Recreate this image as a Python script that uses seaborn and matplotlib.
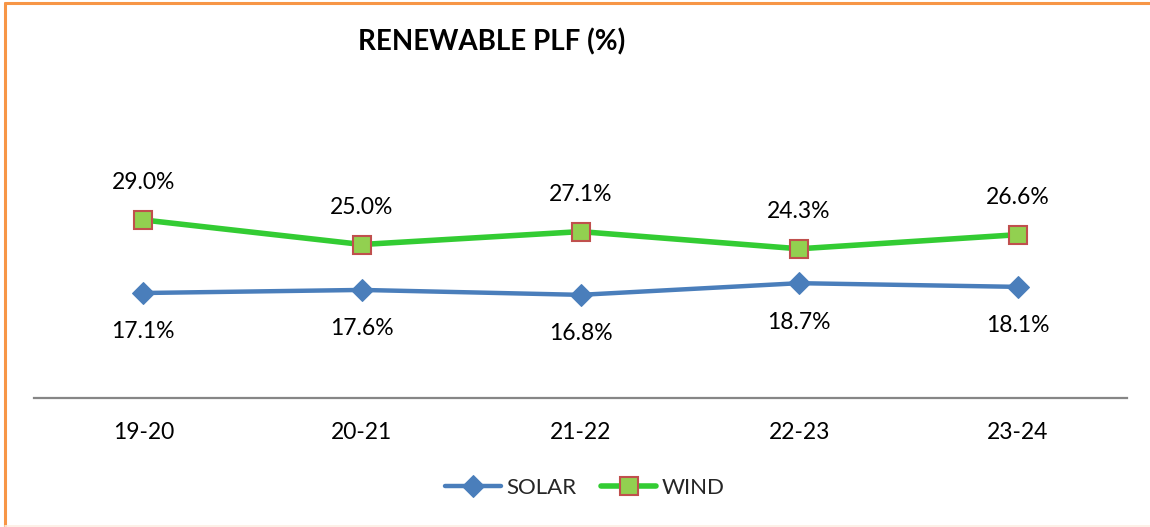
import matplotlib
matplotlib.use("Agg")
import matplotlib.pyplot as plt
from matplotlib.lines import Line2D
import seaborn as sns
import pandas as pd

years = ["19-20", "20-21", "21-22", "22-23", "23-24"]
solar = [17.1, 17.6, 16.8, 18.7, 18.1]
wind = [29.0, 25.0, 27.1, 24.3, 26.6]

sns.set_theme(style="white")
plt.rcParams["font.family"] = ["Lato", "DejaVu Sans"]

df = pd.DataFrame({"year": years, "SOLAR": solar, "WIND": wind})

fig = plt.figure(figsize=(11.5, 5.27), dpi=100)
ax = fig.add_axes([34 / 1150, 1 - 398 / 527, (1127 - 34) / 1150, (398 - 91) / 527])

solar_c = "#4A7EBB"
wind_c = "#33CC33"

sns.lineplot(data=df, x="year", y="SOLAR", ax=ax, color=solar_c, lw=3.2,
             marker="D", markersize=11, markerfacecolor=solar_c,
             markeredgecolor=solar_c, label="SOLAR", sort=False)
sns.lineplot(data=df, x="year", y="WIND", ax=ax, color=wind_c, lw=4,
             marker="s", markersize=12.5, markerfacecolor="#92D050",
             markeredgecolor="#C0504D", markeredgewidth=1.5, label="WIND", sort=False)

for i, v in enumerate(wind):
    ax.annotate(f"{v:.1f}%", (i, v), xytext=(0, 27), textcoords="offset points",
                ha="center", va="center", fontsize=16.5, color="black")
for i, v in enumerate(solar):
    ax.annotate(f"{v:.1f}%", (i, v), xytext=(0, -28), textcoords="offset points",
                ha="center", va="center", fontsize=16.5, color="black")

ax.set_xlim(-0.5, len(years) - 0.5)
ax.set_ylim(0, 50)
ax.set_yticks([])
ax.set_xlabel("")
ax.set_ylabel("")
ax.tick_params(axis="x", length=0, pad=17, labelsize=16.5, colors="black")
for s in ["top", "left", "right"]:
    ax.spines[s].set_visible(False)
ax.spines["bottom"].set_color("#868686")
ax.spines["bottom"].set_linewidth(1.6)

ax.legend(loc="center", bbox_to_anchor=(585 / 1150, 1 - 488 / 527),
          bbox_transform=fig.transFigure, ncol=2, frameon=False, fontsize=16,
          handlelength=2.5, handletextpad=0.25, columnspacing=1.1, numpoints=1)

fig.text(492 / 1150, 1 - 42 / 527, "RENEWABLE PLF (%)", ha="center", va="center",
         fontsize=20, fontweight="bold", color="black")

# orange frame around the chart
orange = "#F79646"
fig.add_artist(Line2D([4.5 / 1150, 4.5 / 1150], [0, 1 - 2.5 / 527], color=orange,
                      lw=2.2, transform=fig.transFigure))
fig.add_artist(Line2D([4.5 / 1150, 1], [1 - 2.5 / 527, 1 - 2.5 / 527], color=orange,
                      lw=2.2, transform=fig.transFigure))
fig.add_artist(Line2D([4.5 / 1150, 1], [0.8 / 527, 0.8 / 527], color="#FDEEE3",
                      lw=1.2, transform=fig.transFigure))

fig.savefig("out.png", dpi=100)
